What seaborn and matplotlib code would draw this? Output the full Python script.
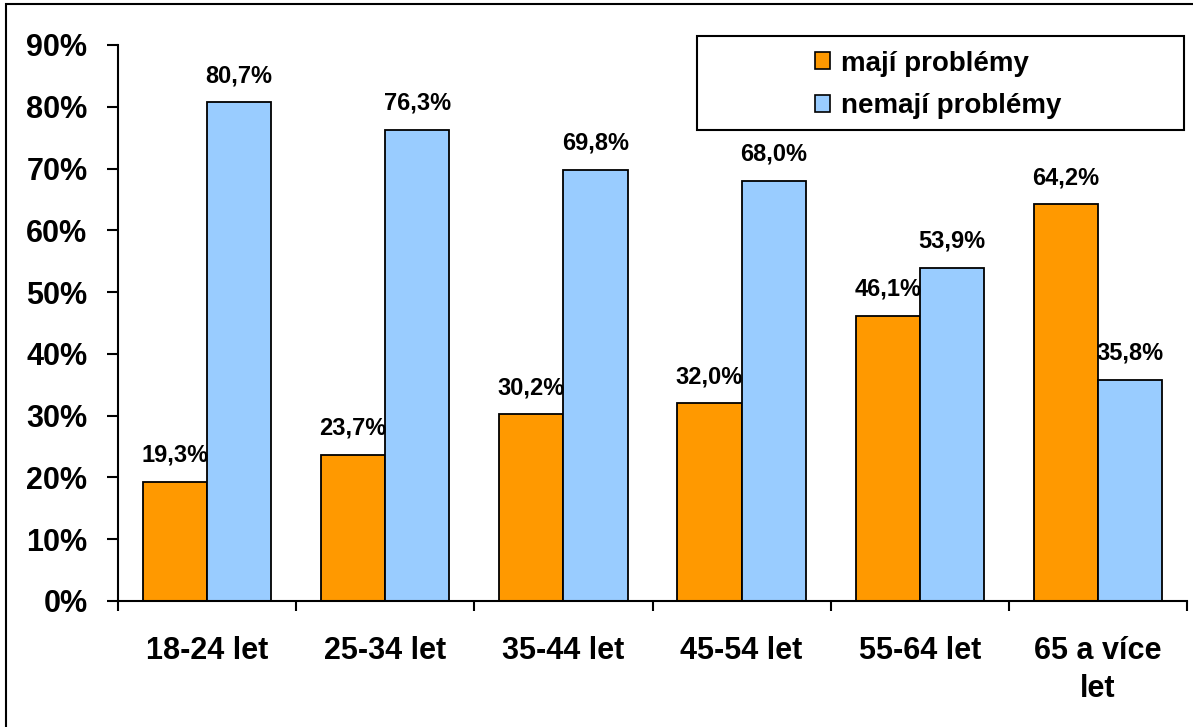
import numpy as np
import pandas as pd
import seaborn as sns
from matplotlib import pyplot as plt
from matplotlib.patches import Rectangle
from matplotlib.ticker import FixedLocator

# data
categories = ["18-24 let", "25-34 let", "35-44 let", "45-54 let", "55-64 let", "65 a více\nlet"]
maji = [19.3, 23.7, 30.2, 32.0, 46.1, 64.2]
nemaji = [80.7, 76.3, 69.8, 68.0, 53.9, 35.8]
series_names = ["mají problémy", "nemají problémy"]
colors = ["#FF9900", "#99CCFF"]
yticks = [0, 10, 20, 30, 40, 50, 60, 70, 80, 90]

data = pd.DataFrame({
    "kategorie": categories * 2,
    "hodnota": maji + nemaji,
    "skupina": [series_names[0]] * len(categories) + [series_names[1]] * len(categories),
})

sns.set_style("white")
plt.rcParams["font.family"] = ["Liberation Sans", "DejaVu Sans"]
plt.rcParams["font.weight"] = "bold"
plt.rcParams["text.color"] = "black"
plt.rcParams["xtick.color"] = "black"
plt.rcParams["ytick.color"] = "black"

fig = plt.figure(figsize=(11.93, 7.27), dpi=100)
ax = fig.add_axes([118 / 1193, 1 - 601 / 727, (1187 - 118) / 1193, (601 - 45) / 727])

sns.barplot(data=data, x="kategorie", y="hodnota", hue="skupina",
            palette=colors, width=0.72, edgecolor="black", linewidth=1.3,
            saturation=1, ax=ax)

for cont in ax.containers:
    ax.bar_label(cont, labels=[("%.1f%%" % v).replace(".", ",") for v in cont.datavalues],
                 padding=11, fontsize=17, fontweight="bold", color="black")

ax.set_ylim(0, 90)
ax.set_xlim(-0.5, len(categories) - 0.5)
ax.set_yticks(yticks)
ax.set_yticklabels([str(t) + "%" for t in yticks], fontsize=22, fontweight="bold")
ax.set_xticks(range(len(categories)))
ax.set_xticklabels(categories, fontsize=22, fontweight="bold", linespacing=1.35)
ax.xaxis.set_minor_locator(FixedLocator(np.arange(-0.5, len(categories), 1.0)))
ax.tick_params(axis="x", which="major", length=0, pad=25)
ax.tick_params(axis="x", which="minor", length=7, width=1.5, direction="out", bottom=True)
ax.tick_params(axis="y", length=8, width=1.5, direction="out", left=True, pad=14)
ax.set_xlabel("")
ax.set_ylabel("")

for s in ["top", "right"]:
    ax.spines[s].set_visible(False)
for s in ["left", "bottom"]:
    ax.spines[s].set_color("black")
    ax.spines[s].set_linewidth(1.5)

# legend: entries right of centre inside a wide box
leg = ax.legend(loc="center left", bbox_to_anchor=(815 / 1193, 1 - 85 / 727),
                bbox_transform=fig.transFigure, fontsize=20, frameon=False,
                handlelength=0.55, handleheight=0.55, handletextpad=0.4,
                borderpad=0, labelspacing=0.6, borderaxespad=0)
for t in leg.get_texts():
    t.set_fontweight("bold")
for h in leg.legend_handles:
    h.set_edgecolor("black")
    h.set_linewidth(1.2)
fig.patches.append(Rectangle((697 / 1193, 1 - 130 / 727), 487 / 1193, 94 / 727,
                             transform=fig.transFigure, fill=False,
                             edgecolor="black", linewidth=1.5))

# outer chart frame
fig.patches.append(Rectangle((6 / 1193, -0.05), 1.2, 1.05 - 4 / 727,
                             transform=fig.transFigure, fill=False,
                             edgecolor="black", linewidth=1.5))

plt.savefig("out.png", dpi=100)
plt.close()
